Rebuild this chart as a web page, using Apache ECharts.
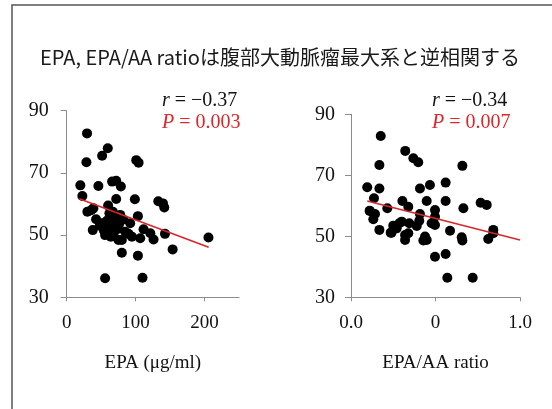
<!DOCTYPE html>
<html><head><meta charset="utf-8">
<script src="https://cdn.jsdelivr.net/npm/echarts@6/dist/echarts.min.js"></script>
<style>html,body{margin:0;padding:0;background:#fff}#c{width:552px;height:409px}</style>
</head><body><div id="c"></div>
<script>
const titleText = 'EPA, EPA/AA ratioは腹部大動脈瘤最大系と逆相関する';
const leftXName = 'EPA (μg/ml)';
const rightXName = 'EPA/AA ratio';
const yTicks = [30, 50, 70, 90];
const leftXTicks = [0, 100, 200];
const rightXTicks = [0, 0.5, 1];
const rightXTickLabels = ['0.0', '0', '1.0'];
const leftStats = { r: '−0.37', p: '0.003' };
const rightStats = { r: '−0.34', p: '0.007' };

// EPA (μg/ml) vs max AAA diameter
const epaPoints = [
  [29.5,82.7],[59.6,77.9],[51.4,75.5],[28.6,73.4],[100.9,74.1],[104.3,73.3],[19.8,66],[65.9,67.2],
  [71.8,67.5],[78.6,65.6],[46,65.8],[22.7,62.6],[71.8,61.6],[98.9,61.5],[132.9,60.9],[139.7,60.2],
  [141.6,58.9],[60.1,59.5],[30,57.5],[35.4,58],[38.7,58.6],[62,57],[77.6,56.5],[103.3,56.1],
  [42.6,55.1],[51,53.8],[92.1,53.8],[37.8,51.6],[56.8,52.7],[111.5,51.9],[121.3,50.6],[126,48.6],
  [142.6,50.4],[84.9,51.1],[89.7,50.4],[94.6,49.5],[106.7,49],[75.1,48.4],[80,48.4],[55.7,50],
  [205.7,49.2],[153.7,45.4],[80,44.3],[103.3,43.4],[55.7,36.1],[110,36.3],
  [60,51],[63,52.5],[66,54],[68,50.5],[70,53],[72,55],[74,52],[64,49.5],[58,54.5],[62,55.5],
  [67,57.5],[76,53.5],[54,51.5],[48,53],[69,51.5],[82,55]
];
const epaFit = [[18.3,61.7],[206,46.1]];

// EPA/AA ratio vs max AAA diameter
const ratioPoints = [
  [0.176,82.9],[0.321,78],[0.369,75.6],[0.398,74.3],[0.168,73.4],[0.659,73.1],[0.096,66.1],[0.168,65.7],
  [0.408,65.7],[0.467,66.8],[0.56,67.6],[0.136,62.5],[0.304,61.6],[0.448,61.6],[0.56,61.6],[0.767,61],
  [0.803,60.3],[0.112,58.3],[0.142,57.3],[0.215,59.2],[0.339,59.7],[0.497,58.6],[0.665,59.2],[0.132,55.6],
  [0.168,52.1],[0.24,51.2],[0.27,52.6],[0.286,54.3],[0.3,54.8],[0.345,54.3],[0.32,50.4],[0.32,48.8],
  [0.339,51],[0.389,53.4],[0.404,55.1],[0.408,57.3],[0.438,49.9],[0.448,48.8],[0.428,48.6],[0.477,54.3],
  [0.497,56.4],[0.497,53.7],[0.586,51.8],[0.655,49.7],[0.659,48.6],[0.842,52.1],[0.842,51],[0.812,49.1],
  [0.497,43.3],[0.56,44.2],[0.57,36.4],[0.72,36.4],[0.11,58.4],[0.235,51.2],[0.25,53.5]
];
const ratioFit = [[0.096,61.6],[1.0,48.8]];

const serif = "'Liberation Serif','DejaVu Serif',serif";
const axisColor = '#8c8c8c';
const chart = echarts.init(document.getElementById('c'));

function yAxis(gridIndex, margin) {
  return {
    gridIndex, type: 'value', min: 30, max: 90, interval: 20,
    axisLine: { show: true, lineStyle: { color: axisColor, width: 1 } },
    axisTick: { show: true, length: 6, lineStyle: { color: axisColor } },
    splitLine: { show: false },
    axisLabel: { color: '#111', fontFamily: serif, fontSize: 20, margin }
  };
}

function statText(left, top, label, value, color) {
  return { type: 'text', left, top,
    style: { text: '{i|' + label + '} = ' + value, fontFamily: serif, fontSize: 20, fill: color,
      rich: { i: { fontStyle: 'italic', fontFamily: serif, fontSize: 20, fill: color } } } };
}

chart.setOption({
  animation: false,
  backgroundColor: '#fff',
  grid: [
    { left: 66.7, top: 110.7, width: 172.3, height: 186.6 },
    { left: 351, top: 114.3, width: 169, height: 183 }
  ],
  xAxis: [
    {
      gridIndex: 0, type: 'value', min: 0, max: 250,
      axisLine: { lineStyle: { color: axisColor } },
      axisTick: { show: true, length: 4, customValues: leftXTicks, lineStyle: { color: axisColor } },
      splitLine: { show: false },
      axisLabel: { customValues: leftXTicks, color: '#111', fontFamily: serif, fontSize: 19, margin: 16 },
      name: leftXName, nameLocation: 'middle', nameGap: 56,
      nameTextStyle: { color: '#111', fontFamily: serif, fontSize: 19 }
    },
    {
      gridIndex: 1, type: 'value', min: 0, max: 1,
      axisLine: { lineStyle: { color: axisColor } },
      axisTick: { show: true, length: 4, customValues: rightXTicks, lineStyle: { color: axisColor } },
      splitLine: { show: false },
      axisLabel: {
        customValues: rightXTicks, color: '#111', fontFamily: serif, fontSize: 19, margin: 16,
        formatter: v => rightXTickLabels[rightXTicks.indexOf(v)]
      },
      name: rightXName, nameLocation: 'middle', nameGap: 56,
      nameTextStyle: { color: '#111', fontFamily: serif, fontSize: 19 }
    }
  ],
  yAxis: [yAxis(0, 18), yAxis(1, 16)],
  series: [
    { type: 'scatter', xAxisIndex: 0, yAxisIndex: 0, data: epaPoints, symbolSize: 10,
      itemStyle: { color: '#000', opacity: 1 }, z: 2 },
    { type: 'line', xAxisIndex: 0, yAxisIndex: 0, data: epaFit, showSymbol: false,
      lineStyle: { color: '#d7262b', width: 1.5 }, z: 3 },
    { type: 'scatter', xAxisIndex: 1, yAxisIndex: 1, data: ratioPoints, symbolSize: 10,
      itemStyle: { color: '#000', opacity: 1 }, z: 2 },
    { type: 'line', xAxisIndex: 1, yAxisIndex: 1, data: ratioFit, showSymbol: false,
      lineStyle: { color: '#d7262b', width: 1.5 }, z: 3 }
  ],
  graphic: [
    { type: 'rect', shape: { x: 12, y: 5, width: 560, height: 430 },
      style: { fill: 'none', stroke: '#555', lineWidth: 1.5 }, silent: true },
    { type: 'text', left: 40, top: 47,
      style: { text: titleText, fontFamily: "'Noto Sans CJK JP','Noto Sans',sans-serif", fontSize: 20, fill: '#1a1a1a' } },
    statText(162, 91, 'r', leftStats.r, '#111'),
    statText(162, 113, 'P', leftStats.p, '#e0242a'),
    statText(432, 91, 'r', rightStats.r, '#111'),
    statText(432, 113, 'P', rightStats.p, '#e0242a')
  ]
});
</script>
</body></html>
